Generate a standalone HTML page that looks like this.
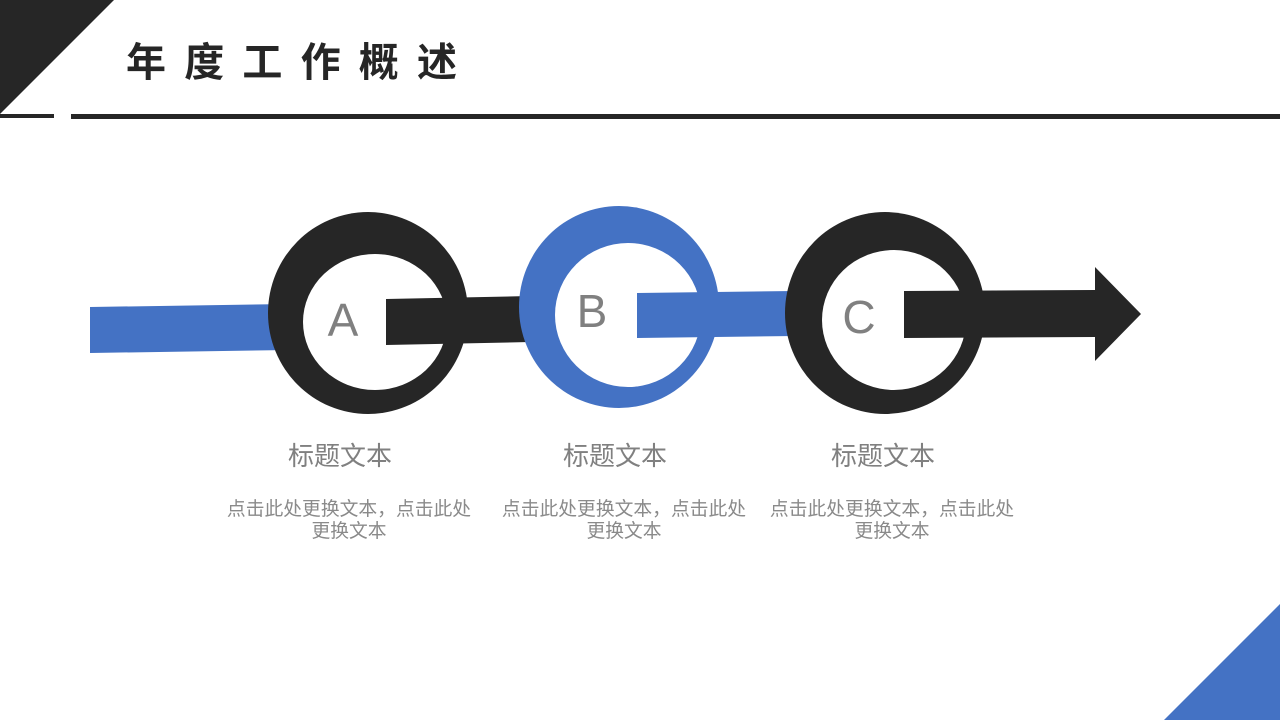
<!DOCTYPE html>
<html><head><meta charset="utf-8"><style>
html,body{margin:0;padding:0;background:#fff;}
body{width:1280px;height:720px;overflow:hidden;position:relative;font-family:"Liberation Sans","Noto Sans CJK SC",sans-serif;}
</style></head><body>
<svg width="1280" height="720" viewBox="0 0 1280 720" style="position:absolute;left:0;top:0">
<polygon points="0,0 114,0 0,114" fill="#262626"/>
<rect x="0" y="114" width="54" height="4" fill="#262626"/>
<rect x="71" y="114" width="1209" height="5" fill="#262626"/>
<polygon points="1280,604 1280,720 1164,720" fill="#4472c4"/>
<text x="126" y="76" font-size="40" font-weight="bold" fill="#262626" letter-spacing="18.2" font-family="Liberation Sans, Noto Sans CJK SC, sans-serif">年度工作概述</text>

<polygon points="90,307 290,304 290,350 90,353" fill="#4472c4"/>
<ellipse cx="368" cy="313" rx="100" ry="101" fill="#262626"/>
<ellipse cx="375" cy="322" rx="72" ry="68" fill="#fff"/>
<polygon points="386,299 530,296 530,342 386,345" fill="#262626"/>
<ellipse cx="619" cy="307" rx="100" ry="101" fill="#4472c4"/>
<ellipse cx="628" cy="315" rx="73" ry="72" fill="#fff"/>
<polygon points="637,293 795,291 795,336 637,338" fill="#4472c4"/>
<ellipse cx="885" cy="313" rx="100" ry="101" fill="#262626"/>
<ellipse cx="894" cy="320" rx="72" ry="70" fill="#fff"/>
<polygon points="904,291 1095,290 1095,267 1141,314 1095,361 1095,337 904,338" fill="#262626"/>

<g fill="#808080" font-family="Liberation Sans, Noto Sans CJK SC, sans-serif" text-anchor="middle">
<text x="343" y="336" font-size="46">A</text>
<text x="592" y="327" font-size="46">B</text>
<text x="859" y="333" font-size="46">C</text>
<text x="340" y="465" font-size="26">标题文本</text>
<text x="615" y="465" font-size="26">标题文本</text>
<text x="883" y="465" font-size="26">标题文本</text>
<g font-size="18.8" fill="#8a8a8a">
<text x="349" y="515">点击此处更换文本，点击此处</text>
<text x="349" y="537">更换文本</text>
<text x="624" y="515">点击此处更换文本，点击此处</text>
<text x="624" y="537">更换文本</text>
<text x="892" y="515">点击此处更换文本，点击此处</text>
<text x="892" y="537">更换文本</text>
</g>
</g>
</svg>
</body></html>
